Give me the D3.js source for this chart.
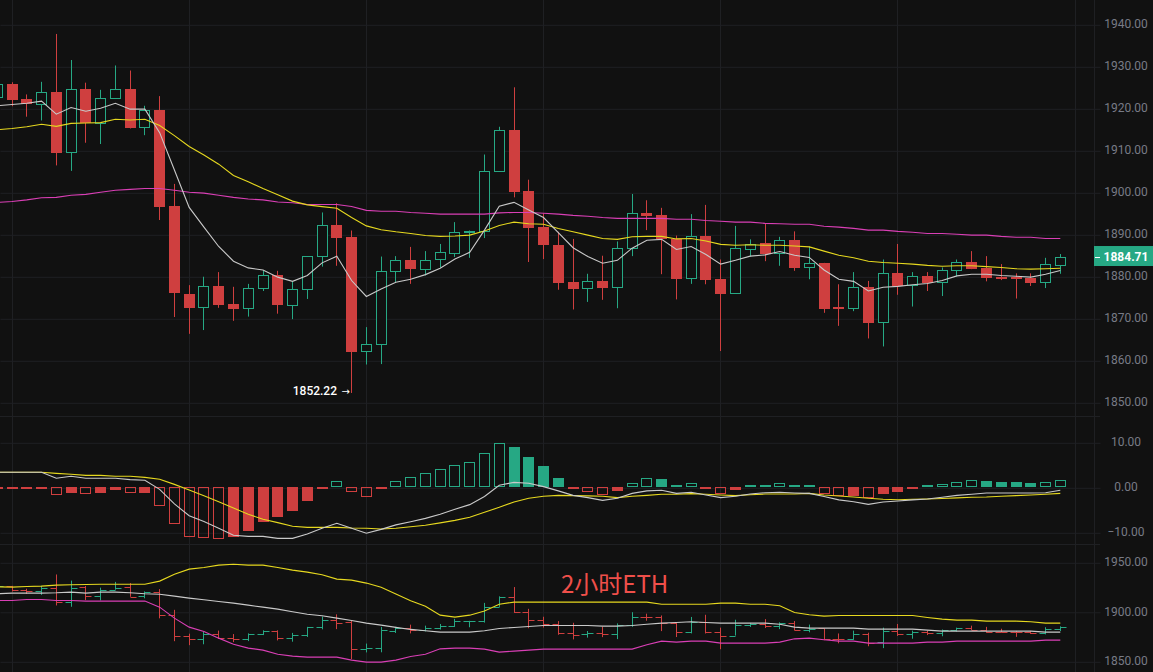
<!DOCTYPE html>
<html>
<head>
<meta charset="utf-8">
<script src="https://cdn.jsdelivr.net/npm/d3@7"></script>
<style>
html, body { margin: 0; padding: 0; background: #111111; overflow: hidden; }
svg { display: block; }
text { font-family: Roboto, sans-serif; }
</style>
</head>
<body>
<script>
// 2h ETH candles, first visible bar is partly cut by the left edge
var opens = [1922.5,1925.8,1922.2,1920.9,1923.9,1909.5,1924.6,1916.4,1922.3,1924.6,1915.5,1919.6,1896.7,1875.9,1872.5,1877.7,1873.4,1872.4,1877.1,1880.3,1873.2,1876.9,1884.8,1892.2,1889.4,1862.1,1863.7,1881.1,1883.8,1881.8,1884.0,1885.6,1890.6,1890.6,1905.0,1914.8,1900.3,1891.7,1887.5,1878.6,1877.1,1878.9,1877.4,1886.7,1895.0,1894.6,1889.0,1879.5,1889.6,1879.4,1876.0,1886.6,1887.9,1885.6,1888.7,1882.1,1883.2,1872.6,1872.3,1877.5,1869.0,1880.8,1877.9,1880.1,1878.6,1881.3,1883.4,1882.0,1879.8,1879.8,1879.7,1878.5,1882.9]
var highs = [1926.5,1926.2,1923.3,1926.3,1937.7,1931.5,1926.1,1924.4,1930.2,1929.0,1920.6,1922.9,1902.0,1877.9,1879.9,1881.0,1877.5,1878.2,1881.3,1881.3,1878.7,1884.8,1895.2,1897.4,1890.9,1867.9,1884.7,1884.8,1887.0,1886.0,1887.7,1892.9,1890.9,1909.0,1915.6,1925.0,1903.0,1895.0,1890.6,1888.9,1880.6,1884.9,1888.3,1899.6,1898.1,1896.3,1889.7,1894.8,1897.0,1884.0,1892.0,1888.8,1892.6,1889.4,1890.7,1887.1,1883.2,1878.1,1881.0,1878.9,1884.0,1887.7,1881.0,1881.0,1882.1,1884.0,1886.0,1884.8,1882.9,1880.7,1880.7,1884.4,1885.3]
var lows = [1921.5,1920.5,1918.0,1917.1,1906.4,1905.1,1911.8,1911.5,1922.3,1915.2,1913.6,1893.4,1870.3,1866.3,1867.2,1872.5,1869.4,1870.4,1876.5,1871.1,1869.8,1874.6,1882.3,1882.5,1852.22,1859.0,1859.1,1878.6,1878.2,1880.2,1882.1,1884.6,1884.4,1889.1,1905.0,1898.8,1883.4,1884.1,1876.8,1872.1,1873.9,1874.4,1872.4,1884.8,1891.0,1880.5,1874.5,1878.2,1878.1,1862.2,1876.0,1884.7,1883.6,1882.5,1881.3,1879.3,1871.3,1868.2,1871.7,1865.2,1863.3,1875.6,1872.8,1876.5,1875.3,1880.0,1881.7,1878.8,1879.1,1874.7,1877.7,1877.2,1880.6]
var closes = [1925.7,1922.0,1921.0,1923.8,1909.4,1924.5,1916.4,1922.4,1924.5,1915.4,1919.5,1896.6,1875.9,1872.5,1877.6,1873.2,1872.3,1877.1,1880.2,1873.2,1876.9,1884.8,1892.1,1889.1,1862.1,1863.8,1881.2,1883.8,1881.7,1884.0,1885.7,1890.6,1890.9,1905.0,1914.8,1900.1,1891.6,1887.3,1878.5,1877.0,1878.8,1877.2,1886.7,1895.0,1894.4,1889.0,1879.4,1889.5,1879.1,1875.9,1886.7,1887.8,1885.3,1888.6,1882.1,1883.1,1872.2,1872.2,1877.4,1868.9,1880.7,1877.7,1880.0,1878.5,1881.4,1883.3,1881.7,1879.7,1879.4,1879.4,1878.5,1882.9,1884.71]

var maFast = [1920.6,1920.9,1921.2,1921.7,1918.6,1920.2,1919.3,1920.0,1921.2,1919.8,1919.8,1914.2,1905.3,1896.4,1891.7,1887.1,1883.6,1882.0,1881.5,1879.8,1878.8,1880.2,1883.2,1884.8,1879.0,1875.2,1877.0,1878.6,1879.3,1880.4,1881.9,1884.1,1885.7,1891.0,1896.7,1897.6,1895.8,1894.0,1890.4,1886.8,1884.7,1883.1,1883.8,1886.7,1888.6,1888.8,1886.4,1887.1,1885.2,1882.9,1883.8,1884.8,1885.1,1885.9,1885.0,1884.5,1881.5,1879.3,1878.8,1876.5,1877.4,1877.6,1878.0,1878.3,1879.0,1880.1,1880.5,1880.5,1880.2,1880.0,1879.8,1880.5,1881.4]
var maMid = [1914.9,1915.2,1915.6,1916.2,1915.7,1916.4,1916.5,1916.6,1917.4,1917.2,1917.4,1915.9,1913.5,1910.9,1908.9,1906.7,1904.0,1902.5,1900.9,1899.4,1897.9,1897.0,1896.6,1896.2,1894.0,1892.0,1891.1,1890.6,1890.2,1889.7,1889.5,1889.6,1889.8,1890.8,1892.1,1892.9,1892.5,1892.4,1891.4,1890.6,1889.8,1889.0,1888.8,1889.4,1889.5,1889.5,1888.9,1889.0,1888.4,1887.6,1887.4,1887.5,1887.4,1887.4,1887.2,1887.0,1886.0,1885.0,1884.4,1883.6,1883.3,1883.1,1882.9,1882.6,1882.4,1882.5,1882.5,1882.3,1882.1,1881.8,1881.7,1881.8,1881.9]
var maSlow = [1897.6,1897.8,1898.2,1898.7,1898.8,1899.3,1899.5,1900.0,1900.5,1900.7,1900.9,1900.9,1900.5,1900.0,1899.8,1899.3,1898.8,1898.4,1898.2,1897.7,1897.5,1897.1,1897.1,1897.1,1896.6,1895.7,1895.5,1895.5,1895.2,1895.0,1894.8,1894.8,1894.8,1894.8,1895.1,1895.2,1895.2,1895.0,1894.8,1894.5,1894.3,1894.0,1893.8,1893.8,1893.8,1893.8,1893.6,1893.6,1893.3,1893.1,1892.9,1892.9,1892.6,1892.5,1892.4,1892.4,1891.9,1891.7,1891.4,1891.0,1891.0,1890.7,1890.5,1890.2,1890.2,1890.0,1889.8,1889.8,1889.5,1889.3,1889.3,1889.0,1889.0]

var macdHist = [-0.37,-0.15,-0.4,-0.4,-1.8,-1.2,-1.55,-1.25,-0.6,-1.35,-1.2,-4.1,-8.2,-11.0,-11.3,-11.55,-11.1,-9.6,-7.6,-6.7,-5.2,-3.0,-0.2,1.5,-0.95,-2.05,-0.3,1.3,2.2,3.1,4.0,4.9,5.55,7.55,9.8,8.95,6.75,4.75,2.05,-0.2,-0.95,-1.6,-0.8,0.9,2.0,1.85,0.5,0.9,-0.3,-1.5,-0.65,0.5,0.45,0.9,0.5,0.45,-1.5,-1.9,-1.85,-2.45,-1.4,-0.95,-0.3,0.3,0.65,1.25,1.55,1.4,1.2,1.15,0.95,1.1,1.55]
var macdLine = [3.33,3.33,3.33,3.33,2.0,2.45,2.0,2.0,2.0,1.7,1.55,-0.45,-3.7,-6.3,-7.6,-9.1,-10.65,-10.9,-10.9,-11.35,-11.35,-10.4,-9.1,-8.0,-9.1,-10.2,-9.35,-8.35,-7.65,-6.9,-6.0,-4.9,-3.85,-2.05,0.45,1.1,0.9,0.15,-0.8,-1.8,-2.3,-2.9,-2.45,-1.35,-0.8,-0.65,-1.35,-1.1,-1.7,-2.3,-2.0,-1.5,-1.2,-1.1,-1.25,-1.35,-2.05,-2.8,-3.2,-3.8,-3.25,-3.05,-2.8,-2.6,-2.2,-1.8,-1.55,-1.25,-1.25,-1.25,-1.25,-1.2,-0.65]
var signalLine = [3.33,3.33,3.33,3.33,3.1,2.9,2.65,2.65,2.45,2.45,2.2,1.8,0.65,-0.6,-1.9,-3.2,-4.6,-6.0,-7.1,-7.85,-8.65,-8.9,-8.9,-8.9,-9.05,-9.1,-9.25,-9.1,-8.75,-8.45,-7.9,-7.35,-6.65,-5.55,-4.45,-3.25,-2.45,-2.0,-1.8,-1.85,-1.9,-2.0,-2.3,-2.0,-1.8,-1.55,-1.55,-1.4,-1.55,-1.7,-1.85,-1.65,-1.5,-1.5,-1.5,-1.35,-1.7,-1.95,-2.15,-2.45,-2.65,-2.75,-2.65,-2.6,-2.5,-2.35,-2.2,-2.15,-2.0,-1.85,-1.7,-1.55,-1.35]

var bollUpper = [1925.3,1924.9,1925.6,1925.9,1926.9,1927.3,1927.6,1927.9,1927.9,1927.9,1927.9,1931.0,1938.0,1943.1,1944.8,1947.1,1948.1,1947.1,1947.1,1944.8,1942.1,1940.1,1937.4,1933.0,1932.0,1929.0,1924.9,1917.9,1911.1,1905.7,1896.6,1894.6,1896.6,1900.7,1907.7,1909.8,1909.8,1909.8,1909.8,1909.8,1909.8,1909.8,1909.8,1909.8,1909.8,1907.7,1907.7,1907.7,1907.7,1908.8,1908.8,1907.7,1907.7,1906.1,1899.3,1897.0,1895.6,1896.3,1896.3,1896.3,1896.3,1896.3,1896.3,1894.3,1892.6,1891.6,1891.6,1890.6,1890.6,1890.6,1889.9,1888.6,1888.6]
var bollMid = [1918.2,1918.9,1918.9,1918.9,1919.2,1919.9,1918.9,1919.9,1919.9,1919.2,1918.2,1917.8,1915.8,1913.8,1912.1,1910.4,1908.8,1906.7,1904.7,1902.7,1900.0,1897.6,1896.0,1893.6,1891.2,1888.6,1886.5,1884.3,1882.2,1880.8,1879.5,1879.5,1879.5,1880.8,1883.2,1884.2,1885.2,1886.2,1886.2,1886.2,1886.2,1885.5,1885.5,1886.2,1887.5,1888.6,1889.2,1889.9,1889.2,1888.6,1888.6,1888.6,1888.6,1887.5,1884.5,1883.5,1883.5,1883.5,1883.5,1882.5,1882.5,1882.5,1882.5,1881.5,1880.5,1880.5,1880.5,1880.5,1880.5,1880.5,1880.5,1879.5,1879.5]
var bollLower = [1911.4,1911.4,1912.5,1912.5,1911.4,1911.4,1910.8,1910.8,1910.8,1910.8,1910.8,1904.7,1893.6,1884.5,1880.1,1873.4,1867.3,1863.3,1861.3,1857.2,1855.2,1854.2,1854.2,1854.2,1851.2,1849.2,1849.2,1851.2,1854.9,1857.2,1862.6,1863.3,1863.3,1862.3,1859.3,1860.3,1861.3,1862.3,1862.3,1862.3,1862.3,1862.3,1862.3,1862.3,1866.7,1870.4,1869.4,1870.4,1870.4,1868.4,1868.4,1868.4,1868.4,1869.4,1872.7,1873.4,1871.7,1870.4,1870.4,1868.4,1868.4,1868.4,1868.4,1869.4,1869.4,1870.4,1870.4,1870.4,1870.4,1870.4,1870.4,1871.4,1871.4]

var priceTicks = [1850,1860,1870,1880,1890,1900,1910,1920,1930,1940]
var macdTicks = [-10,0,10]
var bollTicks = [1850,1900,1950]
var gridBars = [1,13,25,37,49,61,73]
var lastPrice = 1884.71
var lowLabel = "1852.22"
var title = "2小时ETH"

var W = 1153, H = 672, axisX = 1094
var RED = "#cf3f3f", GREEN = "#26a884", GRID = "#1f2023", LABEL = "#787b86"
var WHITE = "#c9c9c9", YELLOW = "#e6d81f", PINK = "#d93fb5"

var svg = d3.select("body").append("svg").attr("width", W).attr("height", H)

var x = d3.scaleLinear().domain([1, 72]).range([12, 1060.3])
var yMain = d3.scaleLinear().domain([1850, 1940]).range([402.3, 24.3])
var yMacd = d3.scaleLinear().domain([-10, 10]).range([532.3, 442.3])
var yBoll = d3.scaleLinear().domain([1850, 1950]).range([661.3, 562.3])

function px(i) { return Math.floor(x(i)) + 0.5 }
function isUp(i) { return closes[i] >= opens[i] }
var bars = d3.range(opens.length)

// grid
var grid = svg.append("g")
gridBars.forEach(function(b) {
	grid.append("line").attr("x1", px(b)).attr("x2", px(b)).attr("y1", 0).attr("y2", H)
		.attr("stroke", GRID)
})
grid.append("line").attr("x1", axisX + 0.5).attr("x2", axisX + 0.5).attr("y1", 0).attr("y2", H).attr("stroke", GRID)
// panel separators
;[416.5, 544.5].forEach(function(s) {
	grid.append("line").attr("x1", 0).attr("x2", axisX + 6).attr("y1", s).attr("y2", s).attr("stroke", GRID)
})

function panelAxis(scale, ticks) {
	// grid lines to the left of the axis
	var g = svg.append("g").attr("transform", "translate(" + (axisX + 0.5) + ",0.5)")
		.call(d3.axisLeft(scale).tickValues(ticks).tickSize(axisX).tickFormat(""))
	g.select(".domain").remove()
	g.selectAll("line").attr("stroke", GRID)
	// labels with short tick marks
	var a = svg.append("g").attr("transform", "translate(" + (axisX + 0.5) + ",0.5)")
		.call(d3.axisRight(scale).tickValues(ticks).tickSize(6).tickFormat(d3.format(".2f")))
	a.select(".domain").remove()
	a.selectAll("line").attr("stroke", GRID)
	a.selectAll("text").attr("x", 31.5).attr("y", -1).attr("text-anchor", "middle")
		.attr("fill", LABEL).style("font-size", "12px")
}
panelAxis(yMain, priceTicks)
panelAxis(yMacd, macdTicks)
panelAxis(yBoll, bollTicks)

// main panel candles
var candles = svg.append("g")
candles.selectAll("line").data(bars).join("line")
	.attr("x1", px).attr("x2", px)
	.attr("y1", function(i) { return yMain(highs[i]) })
	.attr("y2", function(i) { return yMain(lows[i]) })
	.attr("stroke", function(i) { return isUp(i) ? GREEN : RED })
candles.selectAll("rect").data(bars).join("rect")
	.each(function(i) {
		var top = yMain(Math.max(opens[i], closes[i]))
		var h = Math.max(1, yMain(Math.min(opens[i], closes[i])) - top)
		if (isUp(i)) {
			d3.select(this).attr("x", px(i) - 5).attr("width", 10)
				.attr("y", Math.round(top) + 0.5).attr("height", Math.max(1, Math.round(h)))
				.attr("fill", "#111111").attr("stroke", GREEN)
		} else {
			d3.select(this).attr("x", px(i) - 5.5).attr("width", 11)
				.attr("y", Math.round(top)).attr("height", Math.max(2, Math.round(h)))
				.attr("fill", RED)
		}
	})

function drawLine(values, scale, color) {
	var line = d3.line().x(function(d, i) { return x(i) }).y(function(d) { return scale(d) })
	svg.append("path").datum(values).attr("d", line)
		.attr("fill", "none").attr("stroke", color).attr("stroke-width", 1.1)
}
drawLine(maSlow, yMain, PINK)
drawLine(maMid, yMain, YELLOW)
drawLine(maFast, yMain, WHITE)

// low marker
svg.append("text").attr("x", 337).attr("y", yMain(lows[24]) + 2.5).attr("text-anchor", "end")
	.attr("fill", "#ffffff").style("font-size", "12px").style("font-weight", "500").text(lowLabel)
svg.append("text").attr("x", 350).attr("y", yMain(lows[24]) + 2.5).attr("text-anchor", "end")
	.attr("fill", "#ffffff").style("font-family", "'DejaVu Sans'").style("font-size", "10px").text("→")

// macd histogram, hollow while the bar is still growing away from zero
function hollow(i) {
	var v = macdHist[i], p = i > 0 ? macdHist[i - 1] : v
	return (v > 0 && v > p) || (v < 0 && v < p)
}
svg.append("g").selectAll("rect").data(bars).join("rect")
	.each(function(i) {
		var v = macdHist[i], c = v >= 0 ? GREEN : RED
		var y0 = Math.round(yMacd(0)), y1 = Math.round(yMacd(v))
		var top = Math.min(y0, y1), h = Math.max(2, Math.abs(y1 - y0))
		if (hollow(i) && h > 2) {
			d3.select(this).attr("x", px(i) - 5).attr("width", 10)
				.attr("y", top + 0.5).attr("height", h - 1)
				.attr("fill", "none").attr("stroke", c)
		} else {
			d3.select(this).attr("x", px(i) - 5.5).attr("width", 11)
				.attr("y", v >= 0 ? y0 - h : y0).attr("height", h).attr("fill", c)
		}
	})
drawLine(signalLine, yMacd, YELLOW)
drawLine(macdLine, yMacd, WHITE)

// bottom panel, same bars as ohlc marks on the boll scale
var ohlc = svg.append("g").selectAll("g").data(bars).join("g")
	.attr("stroke", function(i) { return isUp(i) ? GREEN : RED })
ohlc.append("line").attr("x1", px).attr("x2", px)
	.attr("y1", function(i) { return yBoll(highs[i]) })
	.attr("y2", function(i) { return yBoll(lows[i]) })
ohlc.append("line").attr("x1", function(i) { return px(i) - 6 }).attr("x2", px)
	.attr("y1", function(i) { return Math.round(yBoll(opens[i])) + 0.5 })
	.attr("y2", function(i) { return Math.round(yBoll(opens[i])) + 0.5 })
ohlc.append("line").attr("x1", px).attr("x2", function(i) { return px(i) + 6 })
	.attr("y1", function(i) { return Math.round(yBoll(closes[i])) + 0.5 })
	.attr("y2", function(i) { return Math.round(yBoll(closes[i])) + 0.5 })
drawLine(bollLower, yBoll, PINK)
drawLine(bollUpper, yBoll, YELLOW)
drawLine(bollMid, yBoll, WHITE)

// last price tag
var tagY = yMain(lastPrice)
svg.append("rect").attr("x", axisX).attr("y", tagY - 10.5).attr("width", W - axisX).attr("height", 20).attr("fill", GREEN)
svg.append("line").attr("x1", axisX + 1).attr("x2", axisX + 6).attr("y1", Math.round(tagY) + 0.5).attr("y2", Math.round(tagY) + 0.5).attr("stroke", "#ffffff")
svg.append("text").attr("x", 1126).attr("y", tagY + 4).attr("text-anchor", "middle")
	.attr("fill", "#ffffff").style("font-size", "12px").style("font-weight", "700").text(d3.format(".2f")(lastPrice))

svg.append("text").attr("x", 561).attr("y", 593).attr("fill", "#ef4f4a")
	.style("font-family", "'Noto Sans CJK SC'").style("font-size", "24px").text(title)
</script>
</body>
</html>
